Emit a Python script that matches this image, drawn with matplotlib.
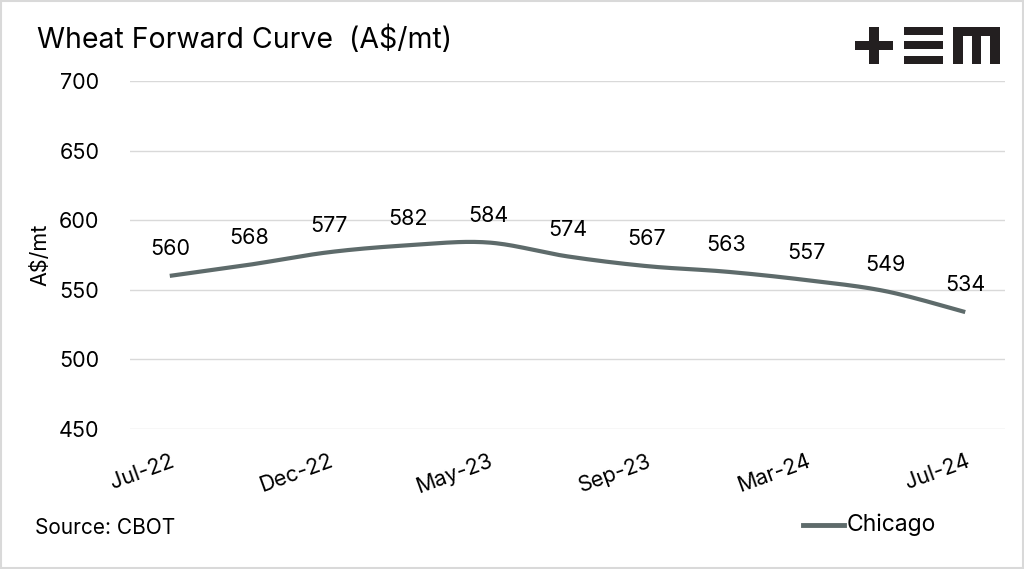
import numpy as np
import matplotlib.pyplot as plt
from matplotlib.patches import Rectangle

plt.rcParams['font.family'] = ['Inter', 'DejaVu Sans']

# data
months = ['Jul-22', 'Sep-22', 'Dec-22', 'Mar-23', 'May-23', 'Jul-23',
          'Sep-23', 'Dec-23', 'Mar-24', 'May-24', 'Jul-24']
chicago = [560, 568, 577, 582, 584, 574, 567, 563, 557, 549, 534]
y_ticks = [450, 500, 550, 600, 650, 700]

line_col = '#5e6b6b'


def smooth(x, y, n=30):
    # catmull-rom style smoothing, similar to Excel smoothed line
    x = np.asarray(x, float)
    y = np.asarray(y, float)
    px = np.concatenate([[x[0]], x, [x[-1]]])
    py = np.concatenate([[y[0]], y, [y[-1]]])
    xs, ys = [], []
    t = np.linspace(0, 1, n)
    for i in range(1, len(px) - 2):
        p0 = np.array([px[i], py[i]])
        p3 = np.array([px[i + 1], py[i + 1]])
        p1 = p0 + (np.array([px[i + 1], py[i + 1]]) - np.array([px[i - 1], py[i - 1]])) / 6
        p2 = p3 - (np.array([px[i + 2], py[i + 2]]) - np.array([px[i], py[i]])) / 6
        b = ((1 - t) ** 3)[:, None] * p0 + (3 * (1 - t) ** 2 * t)[:, None] * p1 \
            + (3 * (1 - t) * t ** 2)[:, None] * p2 + (t ** 3)[:, None] * p3
        xs.extend(b[:, 0])
        ys.extend(b[:, 1])
    return xs, ys


fig = plt.figure(figsize=(10.24, 5.69), dpi=100)
ax = fig.add_axes([130 / 1024, 1 - 429 / 569, 875 / 1024, 348 / 569])

xi = np.arange(len(months))
sx, sy = smooth(xi, chicago)
ax.plot(sx, sy, color=line_col, lw=3, solid_capstyle='butt', label='Chicago')

for i, v in enumerate(chicago):
    ax.annotate(str(v), (i, v), xytext=(0, 12), textcoords='offset points',
                ha='center', va='bottom', fontsize=15.5)

ax.set_xlim(-0.5, 10.5)
ax.set_ylim(450, 700)
ax.set_yticks(y_ticks)
ax.set_yticklabels([str(t) for t in y_ticks], fontsize=15.5)
ax.set_xticks(xi[::2])
ax.set_xticklabels(months[::2], fontsize=15.5, rotation=20, ha='right',
                   va='top', rotation_mode='anchor')
ax.tick_params(length=0)
ax.tick_params(axis='x', pad=16)
ax.tick_params(axis='y', pad=22)
ax.grid(True, axis='y', color='#d9d9d9', lw=1)
ax.set_axisbelow(True)
for s in ax.spines.values():
    s.set_visible(False)
ax.set_ylabel('A$/mt', fontsize=15.5, labelpad=6)

fig.text(37 / 1024, 1 - 40 / 569, 'Wheat Forward Curve  (A$/mt)', fontsize=20.5,
         va='center', ha='left')
fig.text(35 / 1024, 1 - 528 / 569, 'Source: CBOT', fontsize=15, va='center', ha='left')

# legend
fig.add_artist(plt.Line2D([803 / 1024, 844 / 1024], [1 - 525 / 569] * 2,
                          color=line_col, lw=3.5, transform=fig.transFigure))
fig.text(847 / 1024, 1 - 525 / 569, 'Chicago', fontsize=16.5, va='center', ha='left')

# +EM logo
def box(x0, y0, x1, y1):
    fig.add_artist(Rectangle((x0 / 1024, 1 - y1 / 569), (x1 - x0) / 1024, (y1 - y0) / 569,
                             transform=fig.transFigure, color='#231f20', lw=0))

box(855, 41, 893, 50)
box(869, 27, 879, 64)
box(904, 27, 943, 35)
box(904, 41, 943, 49)
box(904, 56, 943, 64)
box(953, 27, 1000, 36)
box(953, 27, 963, 64)
box(972, 27, 981, 64)
box(990, 27, 1000, 64)

# border
fig.add_artist(Rectangle((0.001, 0.001), 0.998, 0.998, transform=fig.transFigure,
                         fill=False, edgecolor='#d9d9d9', lw=1.5))

fig.savefig('out.png', dpi=100)
